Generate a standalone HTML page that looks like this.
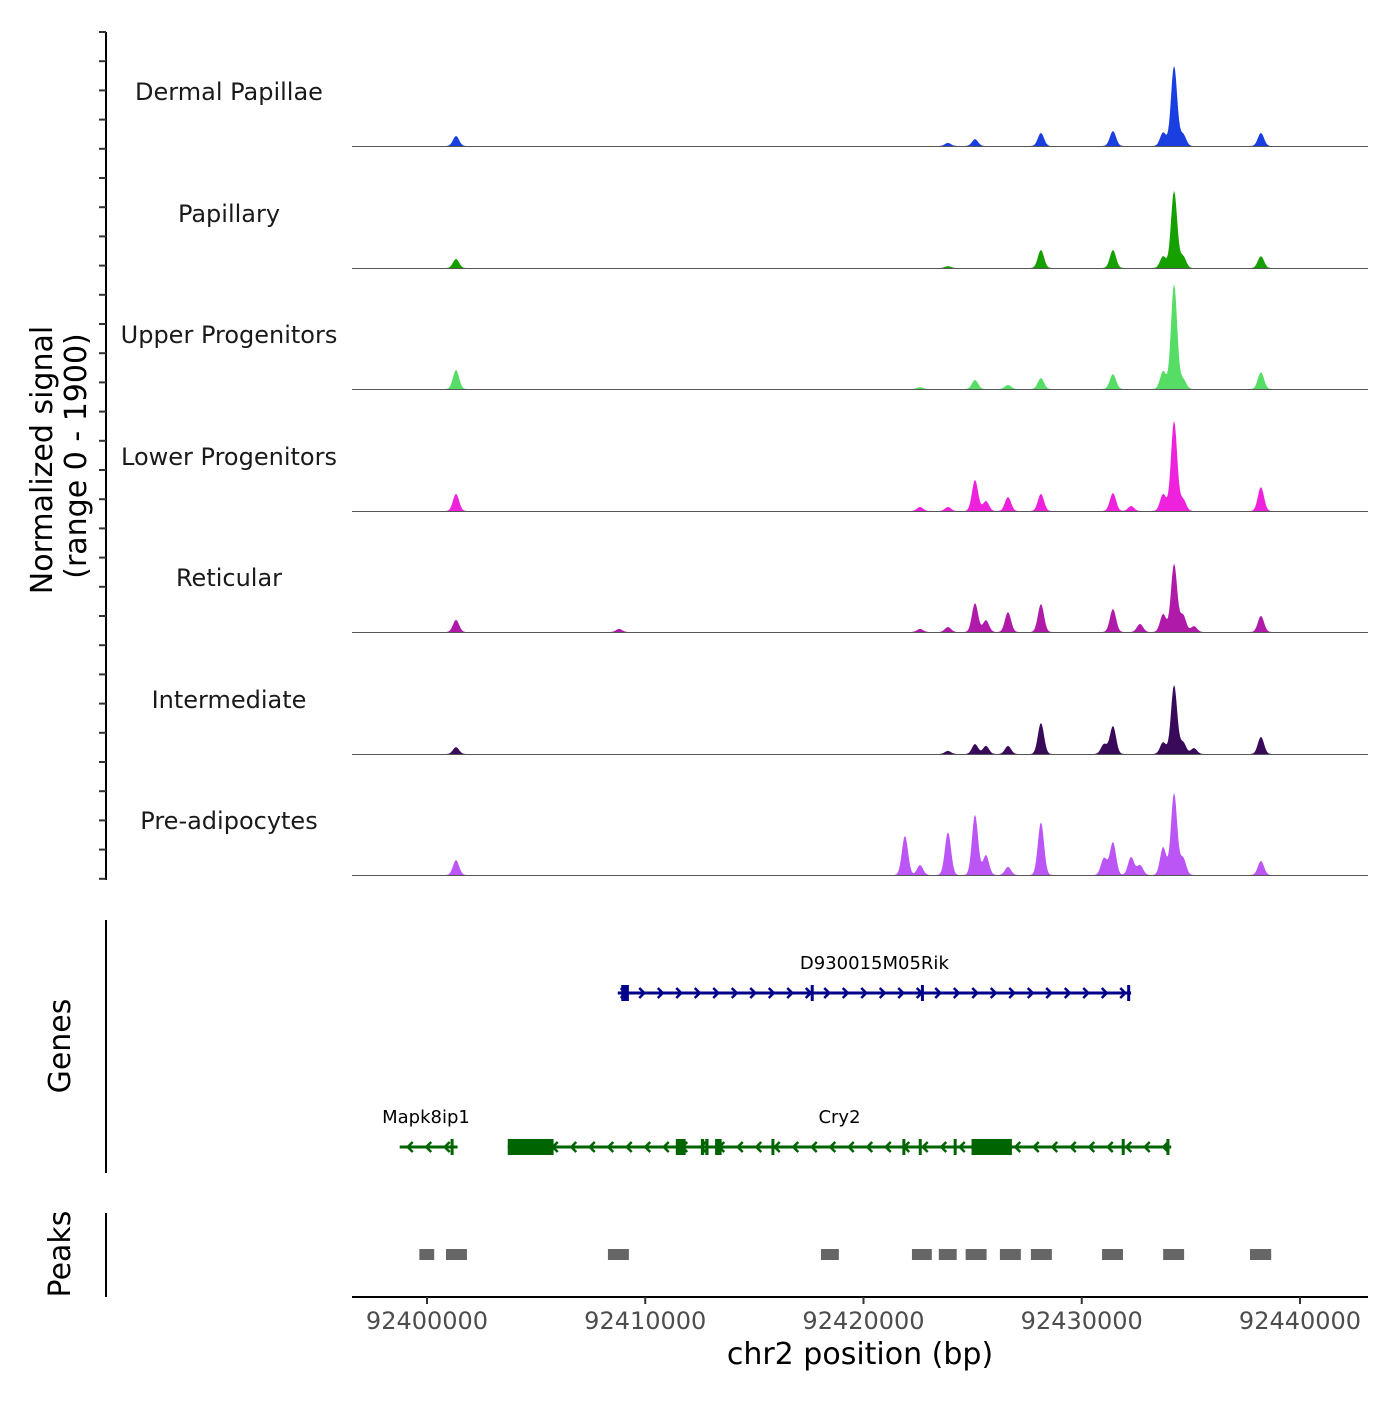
<!DOCTYPE html>
<html><head><meta charset="utf-8"><style>
body{margin:0;background:#fff}
svg text{font-family:"DejaVu Sans","Liberation Sans",sans-serif}
</style></head><body>
<svg id="chart" width="1400" height="1400" viewBox="0 0 1400 1400" xmlns="http://www.w3.org/2000/svg">
<rect width="1400" height="1400" fill="#fff"/>
<g id="tracks"></g>
<g id="axes"></g>
</svg>
<script>
const trackNames = ["Dermal Papillae","Papillary","Upper Progenitors","Lower Progenitors","Reticular","Intermediate","Pre-adipocytes"];
const trackColors = ["#1a3fe0","#16a000","#55dd66","#ee22dd","#b01aa8","#3a0a5a","#bb55f5"];
const peakCenters = [92401330,92408800,92421900,92422590,92423870,92425110,92425610,92426620,92428130,92431020,92431430,92432260,92432670,92433730,92434230,92434640,92435140,92438210];
const dermalVals =       [160,0,0,0,50,110,0,0,210,0,240,0,0,220,1290,190,0,210];
const papillaryVals =    [145,0,0,0,30,0,0,0,290,0,290,0,0,190,1240,190,0,190];
const upperVals =        [305,0,0,30,0,145,0,65,175,0,240,0,0,290,1690,160,0,270];
const lowerVals =        [275,0,0,65,65,500,160,225,275,0,290,80,0,275,1450,190,0,385];
const reticularVals =    [195,50,0,50,80,465,190,320,450,0,370,0,130,290,1100,275,95,260];
const intermediateVals = [110,0,0,0,50,160,130,130,500,160,450,0,0,190,1110,190,95,275];
const preadipVals =      [240,0,630,160,690,970,320,130,850,275,530,290,160,450,1320,275,0,225];
const trackValues = [dermalVals,papillaryVals,upperVals,lowerVals,reticularVals,intermediateVals,preadipVals];
const xTicks = [92400000,92410000,92420000,92430000,92440000];
const peakStarts = [92399650,92400870,92408290,92418050,92422220,92423450,92424680,92426250,92427670,92430930,92433730,92437710];
const peakEnds =   [92400330,92401830,92409250,92418870,92423130,92424270,92425640,92427210,92428630,92431890,92434690,92438680];
const genes = [
 {name:"D930015M05Rik", start:92408740, end:92432260, strand:1, row:0, color:"#00008b",
  exons:[[92408900,92409250]], ticks:[92417650,92422700,92432150]},
 {name:"Mapk8ip1", start:92398750, end:92401400, strand:-1, row:1, color:"#006400",
  exons:[], ticks:[92401150]},
 {name:"Cry2", start:92403700, end:92434100, strand:-1, row:1, color:"#006400",
  exons:[[92403700,92405800],[92411400,92411850],[92412550,92412700],[92412750,92412900],[92413200,92413500],[92424950,92426800]],
  ticks:[92415850,92421850,92422600,92424200,92431900,92433950]}
];
const NS="http://www.w3.org/2000/svg";
const X0=352,X1=1368;
function xs(bp){return 427+(bp-92400000)*0.0218250;}
const bases=[146,268,389,511,632,754,875];
function ys(v,i){return bases[i]-v/1900*118;}
function mk(tag,attrs,parent){const e=document.createElementNS(NS,tag);for(const k in attrs)e.setAttribute(k,attrs[k]);parent.appendChild(e);return e;}
const tracks=document.getElementById('tracks'), axes=document.getElementById('axes');
trackNames.forEach((nm,i)=>{
  const g=mk('g',{},tracks);
  
  
  let pts=[];
  for(let px=X0;px<=X1;px+=1){
    const bp=92400000+(px-427)/0.021825;
    let v=0;
    peakCenters.forEach((c,j)=>{const d=(bp-c)/140;v+=trackValues[i][j]*Math.exp(-d*d/2);});
    pts.push(px+','+ys(v,i).toFixed(2));
  }
  const p=mk('polygon',{points:X0+','+bases[i]+' '+pts.join(' ')+' '+X1+','+bases[i],fill:trackColors[i]},g);
  
  
  mk('line',{x1:X0,x2:X1,y1:bases[i]+0.5,y2:bases[i]+0.5,stroke:'#555','stroke-width':1},g);
  const t=mk('text',{x:229,y:bases[i]-46,'text-anchor':'middle','font-size':24,fill:'#1a1a1a'},g);
  t.textContent=nm;
  
  
});
mk('line',{x1:106,x2:106,y1:32,y2:880,stroke:'#000','stroke-width':2},axes);
for(let y=32;y<=880;y+=29.2){mk('line',{x1:99,x2:106,y1:y,y2:y,stroke:'#333','stroke-width':2},axes);}
mk('line',{x1:106,x2:106,y1:920,y2:1173,stroke:'#000','stroke-width':2},axes);
mk('line',{x1:106,x2:106,y1:1213,y2:1297,stroke:'#000','stroke-width':2},axes);
const yt=mk('text',{transform:'translate(52,460) rotate(-90)','text-anchor':'middle','font-size':30,fill:'#000'},axes);
yt.textContent='Normalized signal';


const yt2=mk('text',{transform:'translate(86,456) rotate(-90)','text-anchor':'middle','font-size':30,fill:'#000'},axes);
yt2.textContent='(range 0 - 1900)';


const gl=mk('text',{transform:'translate(70,1046) rotate(-90)','text-anchor':'middle','font-size':30,fill:'#000'},axes);
gl.textContent='Genes';


const pl=mk('text',{transform:'translate(70,1254) rotate(-90)','text-anchor':'middle','font-size':30,fill:'#000'},axes);
pl.textContent='Peaks';


genes.forEach(gn=>{
  const y=gn.row===0?993:1147;
  const g=mk('g',{},axes);
  
  
  const a=xs(gn.start),b=xs(gn.end);
  mk('line',{x1:a,x2:b,y1:y,y2:y,stroke:gn.color,'stroke-width':3},g);
  for(let x=a+8;x<b-4;x+=18.5){
    const d=gn.strand*5;
    mk('polyline',{points:(x-d)+','+(y-5)+' '+x+','+y+' '+(x-d)+','+(y+5),fill:'none',stroke:gn.color,'stroke-width':2.5},g);
  }
  gn.exons.forEach(e=>mk('rect',{x:xs(e[0]),y:y-8,width:Math.max(3,xs(e[1])-xs(e[0])),height:16,fill:gn.color},g));
  gn.ticks.forEach(t=>mk('rect',{x:xs(t)-1.5,y:y-8,width:3,height:16,fill:gn.color},g));
  const lab=mk('text',{x:(a+b)/2,y:y-24,'text-anchor':'middle','font-size':18,fill:'#000'},g);
  lab.textContent=gn.name;
  if(gn.name==='Mapk8ip1'){lab.setAttribute('x',426);}
});
peakStarts.forEach((s,i)=>{
  const r=mk('rect',{x:xs(s),y:1249,width:xs(peakEnds[i])-xs(s),height:11,fill:'#666'},axes);
  
  
});
mk('line',{x1:X0,x2:X1,y1:1297,y2:1297,stroke:'#000','stroke-width':2},axes);
xTicks.forEach(t=>{
  mk('line',{x1:xs(t),x2:xs(t),y1:1297,y2:1304,stroke:'#333','stroke-width':2},axes);
  const tl=mk('text',{x:xs(t),y:1329,'text-anchor':'middle','font-size':24,fill:'#4d4d4d'},axes);
  tl.textContent=t;
  
  
});
const xt=mk('text',{x:860,y:1364,'text-anchor':'middle','font-size':30,fill:'#000'},axes);
xt.textContent='chr2 position (bp)';


</script>
</body></html>
